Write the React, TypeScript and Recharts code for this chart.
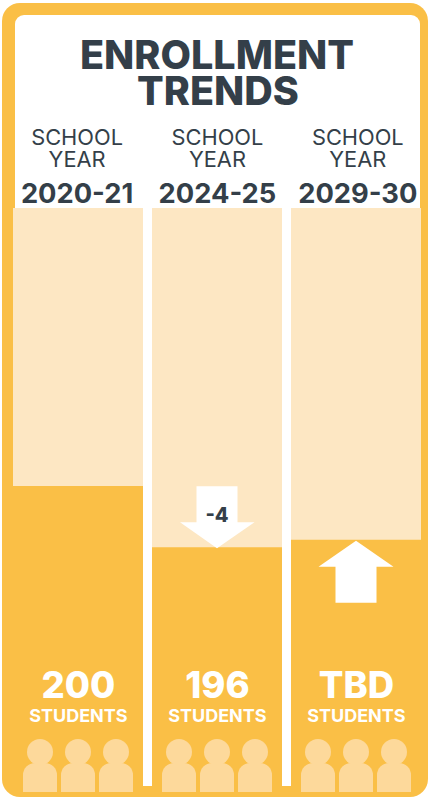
import { BarChart, Bar, XAxis, YAxis, LabelList } from "recharts";

const ORANGE = "#fabf46";
const PALE = "#fde7c3";
const PERSON = "#fdd99b";
const INK = "#343f49";

// column headers and labels as printed
const schoolYears = ["2020-21", "2024-25", "2029-30"];
const studentLabels = ["200", "196", "TBD"];
// height of the filled part, percent of the column (the picture is not to scale with the counts)
const fillLevels = [51.9, 41.3, 42.6];
const changeLabels = ["", "-4", ""];
const changeArrows = ["none", "down", "up"];

const data = schoolYears.map((year, i) => ({
  year,
  level: fillLevels[i],
  students: studentLabels[i],
}));

// headers sit a touch wider apart than the columns
const YearTick = ({ x, payload, index }: any) => {
  const tx = x - 0.4 + 1.35 * index;
  return (
    <g fontFamily="Inter" textAnchor="middle">
      <text x={tx} y={145} fontSize={21.8} fill={INK}>SCHOOL</text>
      <text x={tx} y={167} fontSize={21.8} fill={INK}>YEAR</text>
      <text x={tx} y={203} fontSize={27.3} fontWeight={700} fill={INK}>{payload.value}</text>
    </g>
  );
};

const Person = ({ cx, floor }: { cx: number; floor: number }) => (
  <g fill={PERSON}>
    <circle cx={cx} cy={floor - 40} r={13} />
    <path
      d={`M${cx - 17} ${floor} v-17 a12 12 0 0 1 12 -12 h10 a12 12 0 0 1 12 12 v17 z`}
    />
  </g>
);

// everything that sits inside a column, placed from the bar the library laid out
const ColumnMarks = (props: any) => {
  const { x, y, width, height, index } = props;
  const mid = x + width / 2;
  const floor = y + height;
  const arrow = changeArrows[index];
  return (
    <g fontFamily="Inter" textAnchor="middle">
      {arrow === "down" && (
        <path
          fill="#fff"
          d={`M${mid - 20.5} ${y - 61} h41 v36 h17 L${mid} ${y + 1} L${mid - 37} ${y - 25} h16.5 z`}
        />
      )}
      {arrow === "up" && (
        <path
          fill="#fff"
          d={`M${mid} ${y + 1} L${mid + 37.5} ${y + 27} h-17 v36 h-41 v-36 h-17 z`}
        />
      )}
      {changeLabels[index] && (
        <text x={mid} y={y - 25.5} fontSize={20} fontWeight={800} fill={INK}>
          {changeLabels[index]}
        </text>
      )}
      <text x={mid + 0.4} y={floor - 88} fontSize={36.5} fontWeight={800} fill="#fff">
        {studentLabels[index]}
      </text>
      <text x={mid + 0.4} y={floor - 64} fontSize={18} fontWeight={700} fill="#fff">
        STUDENTS
      </text>
      <Person cx={mid - 38} floor={floor + 6} />
      <Person cx={mid} floor={floor + 6} />
      <Person cx={mid + 38} floor={floor + 6} />
    </g>
  );
};

export default function App() {
  return (
    <div
      style={{
        position: "absolute",
        left: 0,
        top: 0,
        width: 428,
        height: 797,
        background: "#fff",
        overflow: "hidden",
      }}
    >
      {/* frame */}
      <div
        style={{
          position: "absolute",
          left: 2,
          top: 3,
          width: 426,
          height: 794,
          background: ORANGE,
          borderRadius: 18,
        }}
      />
      <div
        style={{
          position: "absolute",
          left: 15,
          top: 15,
          width: 405,
          height: 771,
          background: "#fff",
          borderRadius: "9px 9px 0 0",
        }}
      />
      <div style={{ position: "absolute", left: 0, top: 0 }}>
        <BarChart
          width={428}
          height={797}
          data={data}
          barSize={130}
          margin={{ top: 0, right: 3, bottom: 11, left: 8 }}
        >
          <XAxis
            dataKey="year"
            orientation="top"
            height={208}
            axisLine={false}
            tickLine={false}
            interval={0}
            tick={<YearTick />}
          />
          <YAxis hide domain={[0, 100]} />
          <Bar
            dataKey="level"
            fill={ORANGE}
            background={{ fill: PALE }}
            isAnimationActive={false}
          >
            <LabelList dataKey="students" content={<ColumnMarks />} />
          </Bar>
          <text
            x={217}
            y={69}
            textAnchor="middle"
            fontFamily="Inter"
            fontSize={39.5}
            fontWeight={800}
            fill={INK}
          >
            ENROLLMENT
          </text>
          <text
            x={218}
            y={105}
            textAnchor="middle"
            fontFamily="Inter"
            fontSize={39.5}
            fontWeight={800}
            fill={INK}
          >
            TRENDS
          </text>
        </BarChart>
      </div>
    </div>
  );
}
